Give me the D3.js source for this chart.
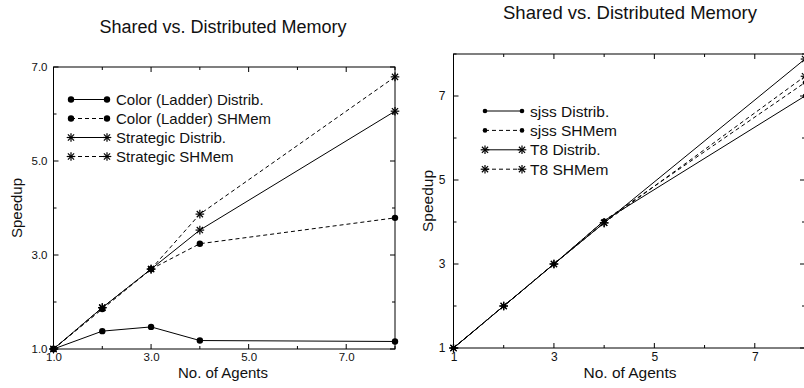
<!DOCTYPE html>
<html><head><meta charset="utf-8">
<script src="https://cdn.jsdelivr.net/npm/d3@7"></script>
<style>body{margin:0;background:#fff}svg{display:block}text{font-family:"Liberation Sans",Arial,Helvetica,sans-serif;fill:#111}</style>
</head><body>
<svg id="c" width="804" height="388"></svg>
<script>
// ---- data ----
const agents = [1, 2, 3, 4, 8];
const colorDistrib = [1, 1.38, 1.47, 1.18, 1.16];
const colorShmem = [1, 1.85, 2.70, 3.24, 3.79];
const strategicDistrib = [1, 1.88, 2.70, 3.53, 6.06];
const strategicShmem = [1, 1.88, 2.70, 3.87, 6.79];
const leftSeriesNames = ["Color (Ladder) Distrib.", "Color (Ladder) SHMem", "Strategic Distrib.", "Strategic SHMem"];
const leftTicks = [1, 3, 5, 7];
const leftTickLabels = ["1.0", "3.0", "5.0", "7.0"];

const sjssDistrib = [1, 2, 3, 4.03, 7.0];
const sjssShmem = [1, 2, 3, 4.03, 7.32];
const t8Distrib = [1, 2, 3, 3.98, 7.88];
const t8Shmem = [1, 2, 3, 3.98, 7.47];
const rightSeriesNames = ["sjss Distrib.", "sjss SHMem", "T8 Distrib.", "T8 SHMem"];
const rightTicks = [1, 3, 5, 7];
const rightTickLabels = ["1", "3", "5", "7"];

const titleText = "Shared vs. Distributed Memory";
const xLabel = "No. of Agents";
const yLabel = "Speedup";

const svg = d3.select("#c");

function star(g, x, y, s) {
  const p = g.append("g").attr("transform", `translate(${x},${y})`).attr("stroke", "#000").attr("stroke-width", 1.2);
  const d = s, e = s * 0.72;
  p.append("line").attr("x1", -d).attr("x2", d).attr("y1", 0).attr("y2", 0);
  p.append("line").attr("x1", 0).attr("x2", 0).attr("y1", -d).attr("y2", d);
  p.append("line").attr("x1", -e).attr("x2", e).attr("y1", -e).attr("y2", e);
  p.append("line").attr("x1", -e).attr("x2", e).attr("y1", e).attr("y2", -e);
}
function marker(g, type, x, y, r, s) {
  if (type === "dot") g.append("circle").attr("cx", x).attr("cy", y).attr("r", r).attr("fill", "#000");
  else star(g, x, y, s);
}

function panel(cfg) {
  const g = svg.append("g");
  const x = d3.scaleLinear().domain(cfg.xdom).range(cfg.xr);
  const y = d3.scaleLinear().domain(cfg.ydom).range(cfg.yr);
  const [x0, x1] = cfg.xr, [y0, y1] = cfg.yr;
  g.append("rect").attr("x", x0).attr("y", y1).attr("width", x1 - x0).attr("height", y0 - y1)
    .attr("fill", "none").attr("stroke", "#000").attr("stroke-width", 1);
  const xt = d3.range(cfg.xdom[0], cfg.xdom[1] + 0.001, 1);
  const yt = d3.range(cfg.ydom[0], cfg.ydom[1] + 0.001, 1);
  xt.forEach(v => {
    const L = cfg.xMajor.includes(v) ? 5 : 3;
    g.append("line").attr("x1", x(v)).attr("x2", x(v)).attr("y1", y0).attr("y2", y0 - L).attr("stroke", "#000");
    g.append("line").attr("x1", x(v)).attr("x2", x(v)).attr("y1", y1).attr("y2", y1 + L).attr("stroke", "#000");
  });
  yt.forEach(v => {
    const L = cfg.yMajor.includes(v) ? 5 : 3;
    g.append("line").attr("y1", y(v)).attr("y2", y(v)).attr("x1", x0).attr("x2", x0 + L).attr("stroke", "#000");
    g.append("line").attr("y1", y(v)).attr("y2", y(v)).attr("x1", x1).attr("x2", x1 - L).attr("stroke", "#000");
  });
  const ax = g.append("g").attr("transform", `translate(0,${y0})`)
    .call(d3.axisBottom(x).tickValues(cfg.xMajor).tickFormat((d, i) => cfg.tickLabels[i]).tickSize(0).tickPadding(cfg.tickPad));
  const ay = g.append("g").attr("transform", `translate(${x0},0)`)
    .call(d3.axisLeft(y).tickValues(cfg.yMajor).tickFormat((d, i) => cfg.tickLabels[i]).tickSize(0).tickPadding(cfg.ytickPad));
  [ax, ay].forEach(a => {
    a.select(".domain").remove();
    a.selectAll("text").attr("font-size", cfg.tickFont).attr("font-family", '"Liberation Sans",Arial,sans-serif').attr("fill", "#111");
  });
  cfg.series.forEach(s => {
    const pts = agents.map((a, i) => [x(a), y(s.vals[i])]);
    g.append("path").attr("d", d3.line()(pts)).attr("fill", "none").attr("stroke", "#000").attr("stroke-width", 1)
      .attr("stroke-dasharray", s.dash ? "4,3" : null);
    pts.forEach(p => marker(g, s.mark, p[0], p[1], cfg.r, cfg.s));
  });
  cfg.series.forEach((s, i) => {
    const ly = cfg.leg.y + i * cfg.leg.dy;
    g.append("line").attr("x1", cfg.leg.x0).attr("x2", cfg.leg.x1).attr("y1", ly).attr("y2", ly)
      .attr("stroke", "#000").attr("stroke-dasharray", s.dash ? "4,3" : null);
    marker(g, s.mark, cfg.leg.x0, ly, cfg.r, cfg.s);
    marker(g, s.mark, cfg.leg.x1, ly, cfg.r, cfg.s);
    g.append("text").attr("x", cfg.leg.tx).attr("y", ly + cfg.legFont * 0.36).attr("font-size", cfg.legFont).text(s.name);
  });
  g.append("text").attr("x", cfg.title.x).attr("y", cfg.title.y).attr("text-anchor", "middle")
    .attr("font-size", cfg.title.fs).text(titleText);
  g.append("text").attr("x", cfg.xl.x).attr("y", cfg.xl.y).attr("text-anchor", "middle")
    .attr("font-size", cfg.xl.fs).text(xLabel);
  g.append("text").attr("transform", `translate(${cfg.yl.x},${cfg.yl.y}) rotate(-90)`).attr("text-anchor", "middle")
    .attr("font-size", cfg.yl.fs).text(yLabel);
}

panel({
  xdom: [1, 8], ydom: [1, 7], xr: [53.5, 395], yr: [349, 67],
  xMajor: leftTicks, yMajor: leftTicks, tickLabels: leftTickLabels, tickFont: 11.5, tickPad: 4, ytickPad: 6,
  r: 3.2, s: 4.3,
  series: [
    {name: leftSeriesNames[0], vals: colorDistrib, mark: "dot", dash: false},
    {name: leftSeriesNames[1], vals: colorShmem, mark: "dot", dash: true},
    {name: leftSeriesNames[2], vals: strategicDistrib, mark: "star", dash: false},
    {name: leftSeriesNames[3], vals: strategicShmem, mark: "star", dash: true}
  ],
  leg: {x0: 71, x1: 107, tx: 116, y: 99.5, dy: 19}, legFont: 15,
  title: {x: 223, y: 33, fs: 18}, xl: {x: 223, y: 378, fs: 15}, yl: {x: 22, y: 208, fs: 15}
});

panel({
  xdom: [1, 8], ydom: [1, 8], xr: [453.5, 805], yr: [348, 54],
  xMajor: rightTicks, yMajor: rightTicks, tickLabels: rightTickLabels, tickFont: 12, tickPad: 4, ytickPad: 8,
  r: 2.3, s: 4.3,
  series: [
    {name: rightSeriesNames[0], vals: sjssDistrib, mark: "dot", dash: false},
    {name: rightSeriesNames[1], vals: sjssShmem, mark: "dot", dash: true},
    {name: rightSeriesNames[2], vals: t8Distrib, mark: "star", dash: false},
    {name: rightSeriesNames[3], vals: t8Shmem, mark: "star", dash: true}
  ],
  leg: {x0: 485, x1: 522, tx: 530, y: 111, dy: 19.4}, legFont: 15.5,
  title: {x: 630, y: 19, fs: 18.5}, xl: {x: 630, y: 378, fs: 15.5}, yl: {x: 433, y: 201, fs: 15.5}
});
</script>
</body></html>
